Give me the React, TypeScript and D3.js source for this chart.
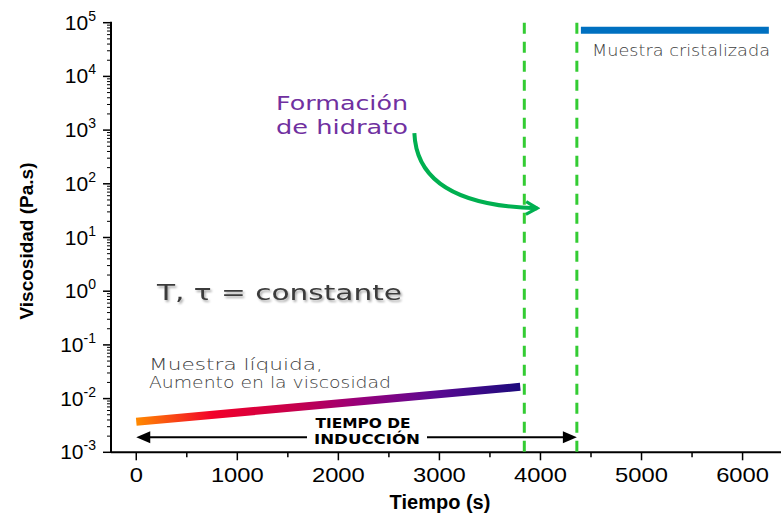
import React from "react";
import * as d3 from "d3";

const W = 781;
const H = 515;

// ticks
const xMajorTicks = [0, 1000, 2000, 3000, 4000, 5000, 6000];
const xMinorTicks = [500, 1500, 2500, 3500, 4500, 5500];
const yDecades = [-3, -2, -1, 0, 1, 2, 3, 4, 5];
const yMinorMult = [2, 3, 4, 5, 6, 7, 8, 9];

// series
const liquidTime = [0, 3800];
const liquidVisc = [0.0037, 0.0166];
const crystalTime = [4400, 6260];
const crystalVisc = [7.2e4, 7.2e4];
const inductionLines = [3840, 4360];
const inductionSpan = [0, 4360];
const inductionVisc = 0.0019;
// curved arrow: start, control, end (time, viscosity)
const hydrateArrow = [
  [2752, 880],
  [2781, 40],
  [3968, 35],
];

const gradientStops = [
  { offset: 0, color: "#ff8a00" },
  { offset: 0.2, color: "#f2002a" },
  { offset: 0.42, color: "#c4004e" },
  { offset: 0.58, color: "#98007a" },
  { offset: 0.78, color: "#5a0a92" },
  { offset: 1, color: "#1c0a7c" },
];

const annoFont = "'DejaVu Sans', 'Noto Sans', sans-serif";
const axisFont = "'Liberation Sans', Arial, sans-serif";

export default function App() {
  const x = d3.scaleLinear().domain([-250, 6400]).range([111, 783]);
  const y = d3.scaleLog().domain([1e-3, 1e5]).range([452.3, 22.7]);
  const x0 = 111;
  const y0 = 452.3;

  const yMinor: number[] = [];
  yDecades.slice(0, -1).forEach((d) =>
    yMinorMult.forEach((m) => yMinor.push(m * Math.pow(10, d)))
  );

  const lx1 = x(liquidTime[0]);
  const ly1 = y(liquidVisc[0]);
  const lx2 = x(liquidTime[1]);
  const ly2 = y(liquidVisc[1]);

  const curve = d3.path();
  curve.moveTo(x(hydrateArrow[0][0]), y(hydrateArrow[0][1]));
  curve.quadraticCurveTo(
    x(hydrateArrow[1][0]),
    y(hydrateArrow[1][1]),
    x(hydrateArrow[2][0]),
    y(hydrateArrow[2][1])
  );

  const ay = y(inductionVisc);
  const ax1 = x(inductionSpan[0]);
  const ax2 = x(inductionSpan[1]);

  const fit = { lengthAdjust: "spacingAndGlyphs" } as any;

  return (
    <svg
      width={W}
      height={H}
      style={{ position: "absolute", left: 0, top: 0, background: "#fff" }}
    >
      <defs>
        <linearGradient
          id="liq"
          gradientUnits="userSpaceOnUse"
          x1={lx1}
          y1={ly1}
          x2={lx2}
          y2={ly2}
        >
          {gradientStops.map((s) => (
            <stop key={s.offset} offset={s.offset} stopColor={s.color} />
          ))}
        </linearGradient>
        <marker
          id="chev"
          viewBox="0 0 10 10"
          refX="8"
          refY="5"
          markerWidth="4"
          markerHeight="4"
          orient="auto"
          markerUnits="strokeWidth"
        >
          <path d="M1,1 L8,5 L1,9" fill="none" stroke="#00b050" strokeWidth="2" />
        </marker>
        <filter id="shadow" x="-10%" y="-30%" width="120%" height="160%">
          <feDropShadow dx="1.5" dy="2" stdDeviation="1.2" floodColor="#000" floodOpacity="0.35" />
        </filter>
      </defs>

      {/* axes */}
      <line x1={x0} x2={x0} y1={y(1e5) - 1} y2={y0} stroke="#000" strokeWidth={2} />
      <line x1={x0} x2={W} y1={y0} y2={y0} stroke="#000" strokeWidth={2} />

      {yDecades.map((d) => (
        <g key={d}>
          <line x1={x0 - 8} x2={x0} y1={y(Math.pow(10, d))} y2={y(Math.pow(10, d))} stroke="#000" strokeWidth={1.5} />
          <text
            x={96}
            y={y(Math.pow(10, d)) + 7}
            textAnchor="end"
            fontFamily={axisFont}
            fontSize={21}
            fill="#000"
          >
            10
            <tspan fontSize={14} dy={-9}>
              {d}
            </tspan>
          </text>
        </g>
      ))}
      {yMinor.map((v) => (
        <line key={v} x1={x0 - 4} x2={x0} y1={y(v)} y2={y(v)} stroke="#000" strokeWidth={1} />
      ))}

      {xMajorTicks.map((t) => (
        <g key={t}>
          <line x1={x(t)} x2={x(t)} y1={y0} y2={y0 + 8} stroke="#000" strokeWidth={1.5} />
          <text
            x={x(t)}
            y={482}
            textAnchor="middle"
            fontFamily={axisFont}
            fontSize={21}
            fill="#000"
            textLength={String(t).length * 13.2}
            {...fit}
          >
            {t}
          </text>
        </g>
      ))}
      {xMinorTicks.map((t) => (
        <line key={t} x1={x(t)} x2={x(t)} y1={y0} y2={y0 + 5} stroke="#000" strokeWidth={1.5} />
      ))}

      <text x={440} y={509} textAnchor="middle" fontFamily={axisFont} fontWeight="bold" fontSize={20}>
        Tiempo (s)
      </text>
      <text
        transform="translate(33,241) rotate(-90)"
        textAnchor="middle"
        fontFamily={axisFont}
        fontWeight="bold"
        fontSize={19}
      >
        Viscosidad (Pa.s)
      </text>

      {/* induction dashed markers */}
      {inductionLines.map((t) => (
        <line
          key={t}
          x1={x(t)}
          x2={x(t)}
          y1={y(1e5)}
          y2={y0}
          stroke="#33cc33"
          strokeWidth={3}
          strokeDasharray="11 8"
        />
      ))}

      {/* liquid sample */}
      <line x1={lx1} y1={ly1} x2={lx2} y2={ly2} stroke="url(#liq)" strokeWidth={8} />

      {/* crystallized sample */}
      <line
        x1={x(crystalTime[0])}
        x2={x(crystalTime[1])}
        y1={y(crystalVisc[0])}
        y2={y(crystalVisc[1])}
        stroke="#0070c0"
        strokeWidth={7}
      />

      {/* hydrate arrow */}
      <path d={curve.toString()} fill="none" stroke="#00b050" strokeWidth={4} markerEnd="url(#chev)" />

      {/* induction time arrow */}
      <line x1={ax1 + 10} x2={307} y1={ay} y2={ay} stroke="#000" strokeWidth={2} />
      <line x1={427} x2={ax2 - 10} y1={ay} y2={ay} stroke="#000" strokeWidth={2} />
      <path d={`M${ax1},${ay} L${ax1 + 14},${ay - 6} L${ax1 + 14},${ay + 6} Z`} fill="#000" />
      <path d={`M${ax2},${ay} L${ax2 - 14},${ay - 6} L${ax2 - 14},${ay + 6} Z`} fill="#000" />
      <text x={363} y={428} textAnchor="middle" fontFamily={annoFont} fontWeight="bold" fontSize={14} textLength={95} {...fit}>
        TIEMPO DE
      </text>
      <text x={367} y={444} textAnchor="middle" fontFamily={annoFont} fontWeight="bold" fontSize={14} textLength={106} {...fit}>
        INDUCCIÓN
      </text>

      {/* annotations */}
      <text x={276} y={110} fontFamily={annoFont} fontSize={20} fill="#7030a0" textLength={132} {...fit}>
        Formación
      </text>
      <text x={276} y={134} fontFamily={annoFont} fontSize={20} fill="#7030a0" textLength={132} {...fit}>
        de hidrato
      </text>
      <text
        x={157}
        y={300}
        fontFamily={annoFont}
        fontSize={22}
        fill="#3a3a3a"
        filter="url(#shadow)"
        textLength={245}
        {...fit}
      >
        T, τ  = constante
      </text>
      <text x={149} y={370} fontFamily={annoFont} fontSize={15} fontWeight={300} fill="#404040" textLength={174} {...fit}>
        Muestra líquida,
      </text>
      <text x={149} y={388} fontFamily={annoFont} fontSize={15} fontWeight={300} fill="#404040" textLength={242} {...fit}>
        Aumento en la viscosidad
      </text>
      <text x={592} y={56} fontFamily={annoFont} fontSize={15} fontWeight={300} fill="#404040" textLength={178} {...fit}>
        Muestra cristalizada
      </text>
    </svg>
  );
}
